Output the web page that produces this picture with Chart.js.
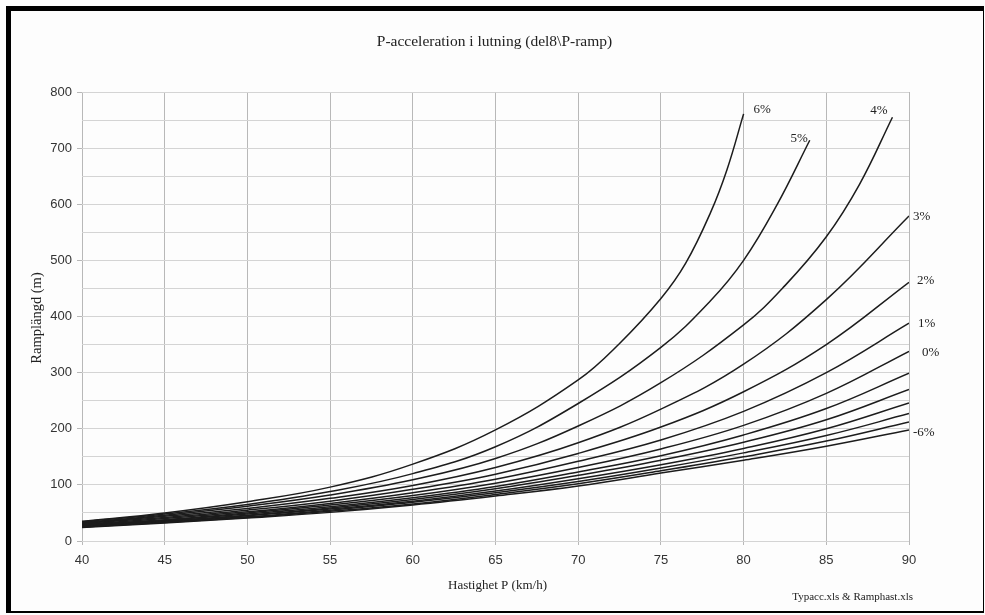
<!DOCTYPE html>
<html>
<head>
<meta charset="utf-8">
<script src="https://cdn.jsdelivr.net/npm/chart.js@4/dist/chart.umd.min.js"></script>
<style>
  html, body { margin: 0; padding: 0; background: #fff; }
  #wrap { position: relative; width: 985px; height: 615px; background: #fdfdfd; }
  #frame {
    position: absolute; left: 6px; top: 6px; width: 972px; height: 600px;
    border-top: 5px solid #000; border-left: 5px solid #000;
    border-right: 1px solid #000; border-bottom: 2px solid #000;
    pointer-events: none;
  }
  canvas { position: absolute; left: 0; top: 0; }
</style>
</head>
<body>
<div id="wrap">
  <canvas id="chart" width="985" height="615"></canvas>
  <div id="frame"></div>
</div>
<script>
// speeds (km/h) and ramp lengths (m)
const speeds = [40, 45, 50, 55, 60, 65, 70, 75, 80, 85, 90];

const speedsP6 = [40, 45, 50, 55, 60, 65, 70, 72.5, 75, 76.5, 78, 79, 80];
const rampP6   = [35, 50, 70, 96, 137, 198, 287, 352, 432, 495, 585, 662, 761];

const speedsP5 = [40, 45, 50, 55, 60, 65, 70, 75, 78, 80, 82, 84];
const rampP5   = [34, 48, 65, 88, 120, 168, 245, 345, 428, 500, 598, 714];

const speedsP4 = [40, 45, 50, 55, 60, 65, 70, 75, 80, 82.5, 85, 87, 89];
const rampP4   = [33, 46, 62, 82, 109, 147, 205, 282, 385, 455, 542, 635, 755];

const rampP3 = [32, 44, 58, 76, 99, 131, 175, 235, 315, 430, 579];
const rampP2 = [31, 42, 55, 71, 92, 119, 156, 203, 266, 350, 461];
const rampP1 = [30, 40, 52, 67, 86, 110, 142, 180, 231, 300, 388];
const rampZ0 = [29, 38, 50, 64, 81, 103, 131, 164, 206, 263, 338];
const rampM1 = [28, 37, 48, 61, 77, 97, 123, 152, 189, 236, 299];
const rampM2 = [27, 36, 46, 59, 74, 93, 117, 144, 176, 216, 270];
const rampM3 = [26, 35, 45, 57, 71, 89, 111, 136, 165, 200, 246];
const rampM4 = [25, 34, 43, 55, 69, 86, 106, 130, 157, 188, 227];
const rampM5 = [25, 33, 42, 53, 66, 83, 102, 125, 150, 178, 212];
const rampM6 = [24, 32, 41, 51, 64, 80, 98, 121, 144, 169, 198];

const grades = ['6%', '5%', '4%', '3%', '2%', '1%', '0%', '-1%', '-2%', '-3%', '-4%', '-5%', '-6%'];
const seriesX = [speedsP6, speedsP5, speedsP4, speeds, speeds, speeds, speeds, speeds, speeds, speeds, speeds, speeds, speeds];
const seriesY = [rampP6, rampP5, rampP4, rampP3, rampP2, rampP1, rampZ0, rampM1, rampM2, rampM3, rampM4, rampM5, rampM6];

const yTicks = [0, 100, 200, 300, 400, 500, 600, 700, 800];
const xTicks = [40, 45, 50, 55, 60, 65, 70, 75, 80, 85, 90];

// end labels: which grades get a label and how it sits next to the curve end
const endLabels = {
  '6%':  { dx: 10, dy: -4, align: 'left' },
  '5%':  { dx: -2, dy: -2, align: 'right' },
  '4%':  { dx: -5, dy: -7, align: 'right' },
  '3%':  { dx: 4,  dy: 1,  align: 'left' },
  '2%':  { dx: 8,  dy: -2, align: 'left' },
  '1%':  { dx: 9,  dy: 0,  align: 'left' },
  '0%':  { dx: 13, dy: 1,  align: 'left' },
  '-6%': { dx: 4,  dy: 3,  align: 'left' }
};

const serif = "'Liberation Serif', 'Times New Roman', serif";
const sans = "'Liberation Sans', Arial, sans-serif";

const datasets = grades.map((g, i) => ({
  label: g,
  data: seriesX[i].map((x, j) => ({ x, y: seriesY[i][j] })),
  borderColor: '#1c1c1c',
  borderWidth: 1.5,
  pointRadius: 0,
  fill: false,
  tension: 0.4
}));

const textPlugin = {
  id: 'texts',
  afterDraw(chart) {
    const { ctx, chartArea: a, scales } = chart;
    ctx.save();
    ctx.fillStyle = '#222';

    ctx.font = `15.5px ${serif}`;
    ctx.textAlign = 'center';
    ctx.textBaseline = 'middle';
    ctx.fillText('P-acceleration i lutning (del8\\P-ramp)', (a.left + a.right) / 2 - 1, 42);

    ctx.font = `13px ${serif}`;
    ctx.fillText('Hastighet P (km/h)', (a.left + a.right) / 2 + 2, 586);

    ctx.save();
    ctx.font = `14.5px ${serif}`;
    ctx.translate(37, 318);
    ctx.rotate(-Math.PI / 2);
    ctx.fillText('Ramplängd (m)', 0, 0);
    ctx.restore();

    ctx.font = `11px ${serif}`;
    ctx.textAlign = 'right';
    ctx.fillText('Typacc.xls & Ramphast.xls', 913, 597);

    // grade labels at curve ends
    ctx.font = `13px ${serif}`;
    grades.forEach((g, i) => {
      const lab = endLabels[g];
      if (!lab) return;
      const xs = seriesX[i], ys = seriesY[i];
      const px = scales.x.getPixelForValue(xs[xs.length - 1]);
      const py = scales.y.getPixelForValue(ys[ys.length - 1]);
      ctx.textAlign = lab.align;
      ctx.fillText(g, px + lab.dx, py + lab.dy);
    });
    ctx.restore();
  }
};

new Chart(document.getElementById('chart'), {
  type: 'line',
  data: { datasets },
  plugins: [textPlugin],
  options: {
    responsive: false,
    devicePixelRatio: 1,
    animation: false,
    events: [],
    layout: { padding: { left: 12, right: 76, top: 92, bottom: 44 } },
    plugins: { legend: { display: false }, tooltip: { enabled: false }, title: { display: false } },
    scales: {
      x: {
        type: 'linear',
        min: 40, max: 90,
        afterFit: (s) => { s.height = 30; },
        afterBuildTicks: (s) => { s.ticks = xTicks.map(v => ({ value: v })); },
        border: { display: false },
        grid: { color: '#b8b8b8', lineWidth: 1, tickLength: 4, tickColor: '#b8b8b8' },
        ticks: { color: '#333', font: { family: sans, size: 13 }, padding: 8, maxRotation: 0 }
      },
      y: {
        min: 0, max: 800,
        afterFit: (s) => { s.width = 70; },
        afterBuildTicks: (s) => {
          const vals = [];
          for (let v = 0; v <= 800; v += 50) vals.push(v);
          s.ticks = vals.map(v => ({ value: v }));
        },
        border: { display: false },
        grid: {
          color: '#d4d4d4', lineWidth: 1, tickLength: 5,
          tickColor: (c) => (yTicks.includes(c.tick?.value) ? '#b8b8b8' : 'rgba(0,0,0,0)')
        },
        ticks: {
          color: '#333', font: { family: sans, size: 13 }, padding: 5,
          callback: (v) => (yTicks.includes(v) ? String(v) : '')
        }
      }
    }
  }
});
</script>
</body>
</html>
